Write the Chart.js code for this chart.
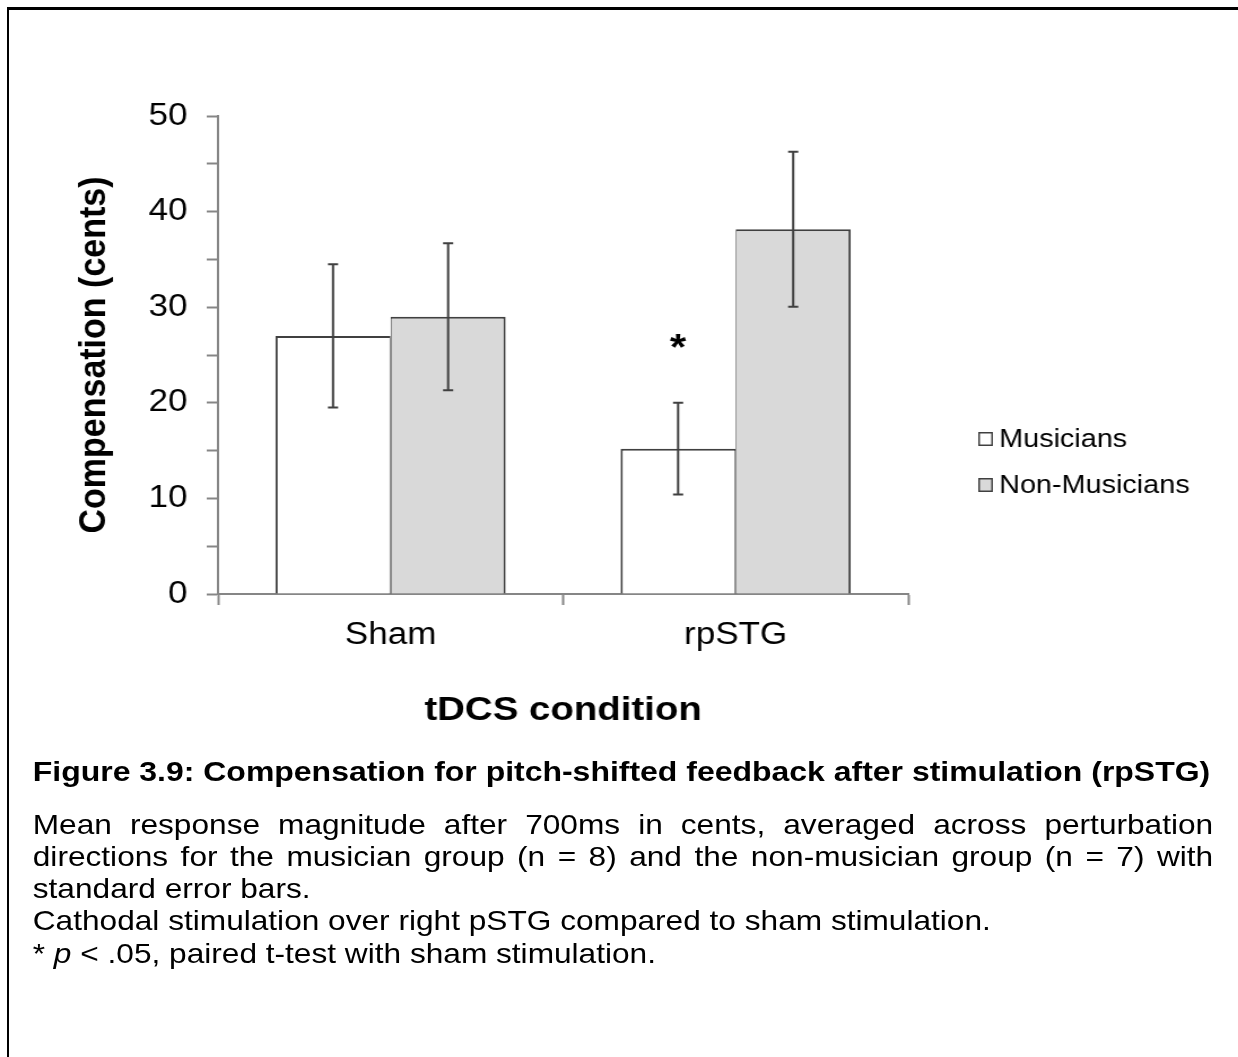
<!DOCTYPE html>
<html>
<head>
<meta charset="utf-8">
<script src="https://cdn.jsdelivr.net/npm/chart.js@4/dist/chart.umd.min.js"></script>
<style>
html,body{margin:0;padding:0;background:#fff;}
#page{position:relative;width:1238px;height:1057px;overflow:hidden;background:#fff;}
#frame{position:absolute;left:7px;top:7px;right:-20px;bottom:-20px;border-left:2.5px solid #000;border-top:3px solid #000;}
#stretch{position:absolute;left:0;top:0;width:1096px;height:1057px;transform:scaleX(1.1296);transform-origin:0 0;}
#chartBox{position:absolute;left:0;top:0;width:1096px;height:740px;}
.cap{position:absolute;left:29px;width:1045px;font-family:"Liberation Sans",Arial,sans-serif;font-size:28px;line-height:32px;color:#000;white-space:nowrap;}
.title{font-weight:bold;font-size:28.3px;}
.just{white-space:normal;text-align:justify;text-align-last:justify;}
</style>
</head>
<body>
<div id="page">
  <div id="frame"></div>
  <div id="stretch">
    <div id="chartBox"><canvas id="c"></canvas></div>
    <div class="cap title" style="top:755px;">Figure 3.9: Compensation for pitch-shifted feedback after stimulation (rpSTG)</div>
    <div class="cap just" style="top:809px;">Mean response magnitude after 700ms in cents, averaged across perturbation</div>
    <div class="cap just" style="top:841px;">directions for the musician group (n = 8) and the non-musician group (n = 7) with</div>
    <div class="cap" style="top:873px;">standard error bars.</div>
    <div class="cap" style="top:905px;">Cathodal stimulation over right pSTG compared to sham stimulation.</div>
    <div class="cap" style="top:938px;">* <i>p</i> &lt; .05, paired t-test with sham stimulation.</div>
  </div>
</div>
<script>
// ---- data ----
const categories = ['Sham', 'rpSTG'];
const seriesNames = ['Musicians', 'Non-Musicians'];
const musicians = [27.0, 15.2];
const nonMusicians = [29.0, 38.15];
const musiciansSE = [7.5, 4.8];
const nonMusiciansSE = [7.7, 8.1];
const musiciansSig = ['', '*'];
const nonMusiciansSig = ['', ''];
const yTickLabels = [0, 10, 20, 30, 40, 50];

const FONT = '"Liberation Sans", Arial, sans-serif';
Chart.defaults.font.family = FONT;
Chart.defaults.color = '#000';

const AXIS = '#868686';
const EDGE = '#404040';

const errorBars = {
  id: 'errorBars',
  afterDatasetsDraw(chart) {
    const ctx = chart.ctx, y = chart.scales.y;
    chart.data.datasets.forEach((ds, i) => {
      const meta = chart.getDatasetMeta(i);
      meta.data.forEach((bar, j) => {
        const v = ds.data[j], e = ds.errors[j];
        const yt = y.getPixelForValue(v + e), yb = y.getPixelForValue(v - e);
        ctx.save();
        ctx.strokeStyle = EDGE; ctx.lineWidth = 2;
        ctx.beginPath();
        ctx.moveTo(bar.x, yt); ctx.lineTo(bar.x, yb);
        ctx.moveTo(bar.x - 4.5, yt); ctx.lineTo(bar.x + 4.5, yt);
        ctx.moveTo(bar.x - 4.5, yb); ctx.lineTo(bar.x + 4.5, yb);
        ctx.stroke();
        if (ds.sig && ds.sig[j]) {
          ctx.fillStyle = '#000';
          ctx.font = 'bold 37px ' + FONT;
          ctx.textAlign = 'center'; ctx.textBaseline = 'alphabetic';
          ctx.fillText(ds.sig[j], bar.x, yt - 43);
        }
        ctx.restore();
      });
    });
  }
};

const sideLegend = {
  id: 'sideLegend',
  afterDraw(chart) {
    const ctx = chart.ctx;
    chart.data.datasets.forEach((ds, i) => {
      const cy = 439 + i * 46;
      ctx.save();
      ctx.fillStyle = ds.backgroundColor;
      ctx.fillRect(866, cy - 7, 13, 14);
      ctx.strokeStyle = EDGE; ctx.lineWidth = 1.5;
      ctx.strokeRect(866.75, cy - 6.25, 11.5, 12.5);
      ctx.fillStyle = '#000';
      ctx.font = '25.5px ' + FONT;
      ctx.textAlign = 'left'; ctx.textBaseline = 'middle';
      ctx.fillText(ds.label, 884.5, cy + 1);
      ctx.restore();
    });
  }
};

new Chart(document.getElementById('c'), {
  type: 'bar',
  data: {
    labels: categories,
    datasets: [
      { label: seriesNames[0], data: musicians, errors: musiciansSE, sig: musiciansSig,
        backgroundColor: '#ffffff', borderColor: EDGE,
        borderWidth: {top: 2, left: 2, right: 1, bottom: 0}, borderSkipped: false },
      { label: seriesNames[1], data: nonMusicians, errors: nonMusiciansSE, sig: nonMusiciansSig,
        backgroundColor: '#d9d9d9', borderColor: EDGE,
        borderWidth: {top: 2, left: 1, right: 2, bottom: 0}, borderSkipped: false }
    ]
  },
  options: {
    responsive: true,
    maintainAspectRatio: false,
    animation: false,
    events: [],
    categoryPercentage: 0.667,
    barPercentage: 1.0,
    layout: { padding: { left: 0, top: 116, right: 292, bottom: 0 } },
    plugins: { legend: { display: false }, tooltip: { enabled: false } },
    scales: {
      x: {
        grid: { display: true, drawOnChartArea: false, drawTicks: true, tickLength: 11, tickColor: AXIS, tickWidth: 2, offset: true },
        border: { display: true, color: AXIS, width: 2 },
        ticks: { color: '#000', font: { size: 31 }, padding: 12 },
        title: { display: true, text: 'tDCS condition', color: '#000', font: { size: 34, weight: 'bold' }, padding: { top: 0, bottom: 9 } },
        afterFit(s) { s.height = 146; }
      },
      y: {
        min: 0, max: 50,
        ticks: { stepSize: 5, color: '#000', font: { size: 31 }, padding: 17,
                 callback: v => yTickLabels.includes(v) ? String(v) : '' },
        grid: { display: true, drawOnChartArea: false, drawTicks: true, tickLength: 10, tickColor: AXIS, tickWidth: 2 },
        border: { display: true, color: AXIS, width: 2 },
        title: { display: true, text: 'Compensation (cents)', color: '#000', font: { size: 34, weight: 'bold' }, padding: { top: 63, bottom: 0 } },
        afterFit(s) { s.width = 193; }
      }
    }
  },
  plugins: [errorBars, sideLegend]
});
</script>
</body>
</html>
